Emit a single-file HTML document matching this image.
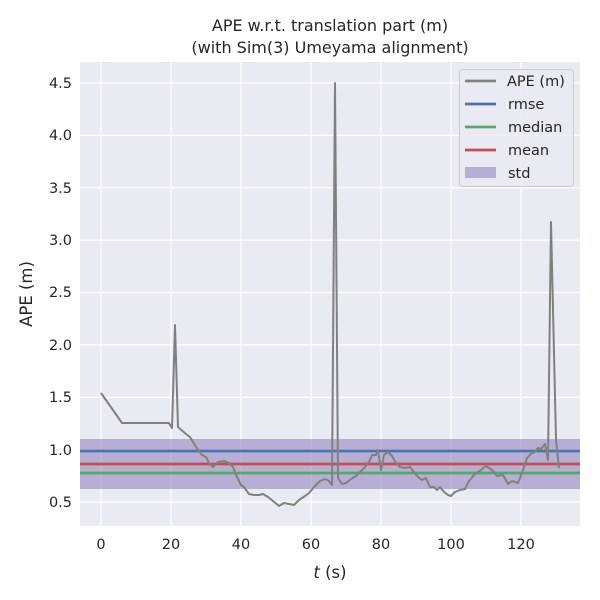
<!DOCTYPE html>
<html><head><meta charset="utf-8"><style>body{margin:0;background:#fff}svg{display:block}text{font-family:"DejaVu Sans","Liberation Sans",sans-serif;fill:#262626}</style></head>
<body>
<svg width="600" height="600" viewBox="0 0 600 600">
<rect x="80" y="62" width="500" height="464" fill="#eaeaf2"/>
<g stroke="#fff" stroke-width="1.2">
<line x1="101" y1="62" x2="101" y2="526"/><line x1="171" y1="62" x2="171" y2="526"/><line x1="241" y1="62" x2="241" y2="526"/><line x1="311" y1="62" x2="311" y2="526"/><line x1="381" y1="62" x2="381" y2="526"/><line x1="451" y1="62" x2="451" y2="526"/><line x1="521" y1="62" x2="521" y2="526"/>
<line x1="80" y1="502" x2="580" y2="502"/><line x1="80" y1="449.6" x2="580" y2="449.6"/><line x1="80" y1="397.3" x2="580" y2="397.3"/><line x1="80" y1="344.9" x2="580" y2="344.9"/><line x1="80" y1="292.5" x2="580" y2="292.5"/><line x1="80" y1="240.1" x2="580" y2="240.1"/><line x1="80" y1="187.8" x2="580" y2="187.8"/><line x1="80" y1="135.4" x2="580" y2="135.4"/><line x1="80" y1="83" x2="580" y2="83"/>
</g>
<rect x="80" y="439" width="500" height="50" fill="#8172b3" fill-opacity="0.5"/>
<line x1="80" y1="451" x2="580" y2="451" stroke="#4c72b0" stroke-width="2.8"/>
<line x1="80" y1="473" x2="580" y2="473" stroke="#55a868" stroke-width="2.8"/>
<line x1="80" y1="464" x2="580" y2="464" stroke="#c44e52" stroke-width="2.8"/>
<polyline fill="none" stroke="#808080" stroke-width="2" stroke-linejoin="round" points="101,393 122,423 169,423 172,428 175,325 178,427 186,434 190,437 193,442 198,450 202,455 206,457 209,463 213,467 218,462 224,461 229,463 233,467 237,477 241,485 244,487 249,494 254,495 259,495 263,494 268,497 273,501 279,506 284,503 289,504 294,505 299,500 305,496 309,493 315,486 320,481 325,479 329,481 332,485 335,83 338,478 342,484 346,483 351,479 356,476 361,471 366,466 370,460 372,455 376,455 378,450 381,470 384,455 388,452 392,456 396,463 400,467 405,468 410,467 414,472 418,477 422,480 426,478 430,487 434,487 437,490 440,487 444,492 448,495 451,496 455,492 460,490 465,489 469,481 475,474 481,470 486,466 492,470 497,476 503,475 508,484 512,481 518,483 522,473 527,458 532,453 535,452 538,448 541,449 545,444 548,460 551,222 556,440 559,468"/>
<g font-size="14.5" text-anchor="middle">
<text x="101" y="549">0</text><text x="171" y="549">20</text><text x="241" y="549">40</text><text x="311" y="549">60</text><text x="381" y="549">80</text><text x="451" y="549">100</text><text x="521" y="549">120</text>
</g>
<g font-size="14.5" text-anchor="end">
<text x="72" y="507">0.5</text><text x="72" y="455">1.0</text><text x="72" y="402">1.5</text><text x="72" y="350">2.0</text><text x="72" y="297">2.5</text><text x="72" y="245">3.0</text><text x="72" y="193">3.5</text><text x="72" y="140">4.0</text><text x="72" y="88">4.5</text>
</g>
<text x="330" y="578" font-size="16.5" text-anchor="middle"><tspan font-style="italic">t</tspan> (s)</text>
<text transform="translate(32,294) rotate(-90)" font-size="16.5" text-anchor="middle">APE (m)</text>
<text x="330" y="31" font-size="16" text-anchor="middle">APE w.r.t. translation part (m)</text>
<text x="330" y="53" font-size="16" text-anchor="middle">(with Sim(3) Umeyama alignment)</text>
<rect x="459.5" y="69.5" width="114" height="117" rx="3" fill="#eaeaf2" fill-opacity="0.8" stroke="#cccccc"/>
<g stroke-width="2.8">
<line x1="465" y1="81" x2="496" y2="81" stroke="#808080"/>
<line x1="465" y1="104" x2="496" y2="104" stroke="#4c72b0"/>
<line x1="465" y1="127" x2="496" y2="127" stroke="#55a868"/>
<line x1="465" y1="150" x2="496" y2="150" stroke="#c44e52"/>
</g>
<rect x="465" y="167" width="31" height="11" fill="#8172b3" fill-opacity="0.5"/>
<g font-size="14.5">
<text x="507" y="86">APE (m)</text><text x="508" y="109">rmse</text><text x="508" y="132">median</text><text x="508" y="155">mean</text><text x="508" y="178">std</text>
</g>
</svg>
</body></html>
